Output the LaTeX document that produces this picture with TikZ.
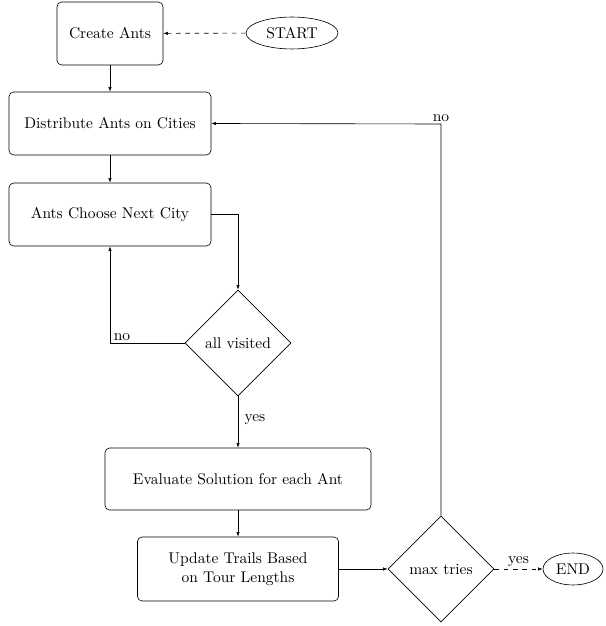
\documentclass[tikz,border=0pt]{standalone}
\usetikzlibrary{shapes.geometric,arrows.meta}
\begin{document}
\begin{tikzpicture}[x=0.645pt,y=-0.645pt,
  box/.style={draw,rounded corners=3pt,align=center,inner sep=0pt},
  decision/.style={draw,diamond,inner sep=0pt,minimum width=68.4pt,minimum height=68.4pt},
  term/.style={draw,ellipse,inner sep=0pt},
  arr/.style={-{Latex[length=3pt,width=2.2pt]}},
  lbl/.style={inner sep=1pt}]
\useasboundingbox (0,0) rectangle (605,626);
\node[box,minimum width=68.4pt,minimum height=40.6pt] (create) at (110,33.5) {Create Ants};
\node[term,minimum width=59.3pt,minimum height=20.6pt] (start) at (292,33) {START};
\node[box,minimum width=130.3pt,minimum height=40.6pt] (distr) at (110,123.5) {Distribute Ants on Cities};
\node[box,minimum width=130.3pt,minimum height=40.6pt] (choose) at (110,214.5) {Ants Choose Next City};
\node[decision] (visited) at (238,343) {all visited};
\node[box,minimum width=171.6pt,minimum height=40pt] (eval) at (238,479) {Evaluate Solution for each Ant};
\node[box,minimum width=129.7pt,minimum height=41.3pt] (update) at (238,569) {Update Trails Based\\on Tour Lengths};
\node[decision] (tries) at (441,569) {max tries};
\node[term,minimum width=38.7pt,minimum height=20.6pt] (end) at (573,569) {END};

\draw[arr,dashed] (start) -- (create);
\draw[arr] (create) -- (distr);
\draw[arr] (distr) -- (choose);
\draw[arr] (choose.east) -| (visited.north);
\draw[arr] (visited.west) -| node[lbl,pos=0.42,above] {no} (choose.south);
\draw[arr] (visited.south) -- node[lbl,right,pos=0.45,xshift=3pt] {yes} (eval.north);
\draw[arr] (eval) -- (update);
\draw[arr] (update) -- (tries);
\coordinate (corner) at (441,124);
\draw[arr] (tries.north) -- (corner) node[lbl,above] {no} -- (distr.east);
\draw[arr,dashed] (tries.east) -- node[lbl,above] {yes} (end.west);
\end{tikzpicture}
\end{document}
